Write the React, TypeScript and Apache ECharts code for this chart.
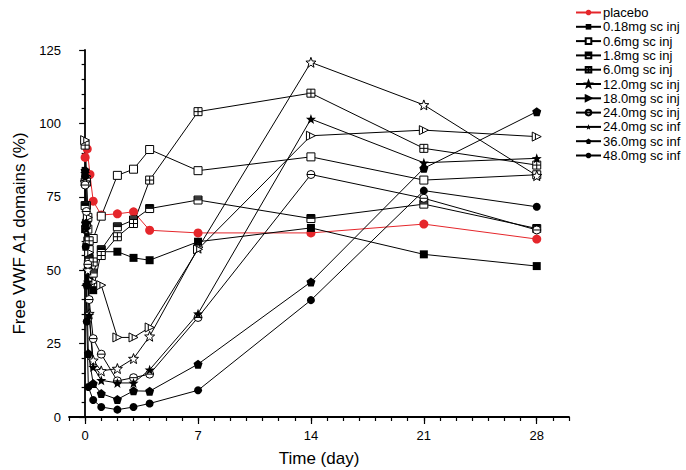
import React, { useEffect, useRef } from "react";
import * as echarts from "echarts";

// ---- data ----
const seriesNames = [
  "placebo",
  "0.18mg sc inj",
  "0.6mg sc inj",
  "1.8mg sc inj",
  "6.0mg sc inj",
  "12.0mg sc inj",
  "18.0mg sc inj",
  "24.0mg sc inj",
  "24.0mg sc inf",
  "36.0mg sc inf",
  "48.0mg sc inf",
];

const placeboDays = [0, 0.13, 0.3, 0.5, 1, 2, 3, 4, 7, 14, 21, 28];
const placeboValues = [88.4, 91.3, 82.6, 73.5, 68.8, 69.2, 69.9, 63.6, 62.7, 62.7, 65.7, 60.6];

const commonDays = [0, 0.08, 0.17, 0.25, 0.5, 1, 2, 3, 4, 7, 14, 21, 28];
const infDays = [0, 0.04, 0.1, 0.2, 0.5, 1, 2, 3, 4, 7, 14, 21, 28];

const dose018Values = [64, 58, 52, 47, 43.2, 56.3, 56.3, 54.2, 53.4, 59.7, 64.4, 55.4, 51.4];
const dose06Values = [80, 72, 64, 57, 60.8, 68.4, 82.3, 84.4, 91.1, 83.9, 88.6, 80.7, 82.5];
const dose18Values = [72, 66, 60, 54, 49, 57, 64.8, 67.1, 71.0, 73.9, 67.6, 72.5, 64.2];
const dose60Values = [92.6, 80, 68, 60, 52.8, 55, 61.4, 65.9, 80.7, 104, 110.3, 91.5, 85.8];
const dose120Values = [80, 66, 50, 35.2, 19.3, 15.7, 16.5, 19.9, 27.5, 57.5, 120.8, 106.3, 82.2];
const dose180Values = [94.3, 82, 68, 56, 46, 44.9, 27.1, 27.1, 30.5, 57.1, 95.8, 97.7, 95.5];
const dose240InjValues = [79, 70, 52, 40, 26.7, 21.4, 12.3, 13.4, 14.6, 33.9, 82.6, 74.5, 63.7];
const dose240InfValues = [83, 64, 46, 34.7, 17, 12.5, 11.6, 11.6, 16.1, 35.2, 101.5, 86.6, 88.1];
const dose360Values = [84, 66, 45, 21.6, 11.4, 8.0, 6.0, 8.9, 8.8, 18.0, 46.0, 84.7, 104];
const dose480Values = [82, 58, 32.5, 10.2, 5.8, 3.4, 2.5, 3.4, 4.6, 9.1, 39.8, 77.1, 71.6];

const xMajorTicks = [0, 7, 14, 21, 28];

// ---- marker shapes ----
const STAR =
  "path://M5,0L6.23,3.3L9.76,3.45L7,5.65L7.94,9.05L5,7.1L2.06,9.05L3,5.65L0.24,3.45L3.77,3.3Z";
const PENTAGON = "path://M5,0L9.76,3.45L7.94,9.05L2.06,9.05L0.24,3.45Z";
const SQUARE_CROSS = "path://M0,0L10,0L10,10L0,10Z M5,0L5,10 M0,5L10,5";
const SQUARE_HALF = "path://M0,0L10,0L10,10L0,10Z M0,1.2L10,1.2 M0,2.4L10,2.4 M0,3.6L10,3.6 M0,4.8L10,4.8";
const TRI_BAR = "path://M0,0L10,5L0,10Z M3.5,1.75L3.5,8.25";
const CIRCLE_BAR = "path://M0,5A5,5,0,1,1,10,5A5,5,0,1,1,0,5Z M0,5L10,5";

type Style = { symbol: string; size: number; fill: string; border?: boolean; color?: string };

const styles: Style[] = [
  { symbol: "circle", size: 9, fill: "#e5262b", color: "#e5262b" },
  { symbol: "rect", size: 8, fill: "#000" },
  { symbol: "rect", size: 8, fill: "#fff", border: true },
  { symbol: SQUARE_HALF, size: 8, fill: "#fff", border: true },
  { symbol: SQUARE_CROSS, size: 8, fill: "#fff", border: true },
  { symbol: STAR, size: 10, fill: "#fff", border: true },
  { symbol: TRI_BAR, size: 9, fill: "#fff", border: true },
  { symbol: CIRCLE_BAR, size: 8, fill: "#fff", border: true },
  { symbol: STAR, size: 10, fill: "#000" },
  { symbol: PENTAGON, size: 9, fill: "#000" },
  { symbol: "circle", size: 8, fill: "#000" },
];

const seriesDays = [
  placeboDays,
  commonDays,
  commonDays,
  commonDays,
  commonDays,
  commonDays,
  commonDays,
  commonDays,
  commonDays,
  infDays,
  infDays,
];
const seriesValues = [
  placeboValues,
  dose018Values,
  dose06Values,
  dose18Values,
  dose60Values,
  dose120Values,
  dose180Values,
  dose240InjValues,
  dose240InfValues,
  dose360Values,
  dose480Values,
];

const FONT = "'Liberation Sans', Arial, sans-serif";

export default function App() {
  const ref = useRef<HTMLDivElement>(null);

  useEffect(() => {
    if (!ref.current) return;
    const chart = echarts.init(ref.current, undefined, { renderer: "svg" });

    const series = seriesNames.map((name, i) => {
      const st = styles[i];
      const lineColor = st.color || "#000";
      return {
        name,
        type: "line",
        xAxisIndex: 0,
        yAxisIndex: 0,
        data: seriesDays[i].map((d, k) => [d, seriesValues[i][k]]),
        symbol: st.symbol,
        symbolSize: st.size,
        showAllSymbol: true,
        lineStyle: { color: lineColor, width: 1 },
        itemStyle: {
          color: st.fill,
          borderColor: st.border ? "#000" : st.fill,
          borderWidth: st.border ? 1 : 0,
        },
        emphasis: { disabled: true },
      };
    });

    chart.setOption({
      animation: false,
      backgroundColor: "#fff",
      textStyle: { fontFamily: FONT },
      grid: {
        left: 69,
        top: 50,
        width: 500,
        height: 367,
        containLabel: false,
        outerBoundsMode: "none",
      },
      legend: {
        orient: "vertical",
        left: 575,
        top: 6,
        padding: 0,
        itemWidth: 25,
        itemHeight: 7,
        itemGap: 1.3,
        textStyle: { fontSize: 13, color: "#000", fontFamily: FONT, padding: [0, 0, 0, -3] },
        data: seriesNames,
      },
      xAxis: [
        {
          type: "value",
          min: -1,
          max: 30,
          interval: 1,
          position: "bottom",
          axisLine: { show: true, lineStyle: { color: "#000", width: 1.8 } },
          axisTick: { show: true, length: 4, lineStyle: { color: "#000", width: 1.2 } },
          axisLabel: { show: false },
          splitLine: { show: false },
        },
        {
          type: "value",
          min: -1,
          max: 30,
          position: "bottom",
          axisLine: { show: false },
          axisTick: {
            show: true,
            length: 7,
            customValues: xMajorTicks,
            lineStyle: { color: "#000", width: 1.2 },
          },
          axisLabel: {
            show: true,
            customValues: xMajorTicks,
            fontSize: 13,
            color: "#000",
            margin: 12,
            fontFamily: FONT,
          },
          splitLine: { show: false },
          name: "Time (day)",
          nameLocation: "middle",
          nameGap: 33,
          nameTextStyle: { fontSize: 17, color: "#000", fontFamily: FONT },
        },
      ],
      yAxis: {
        type: "value",
        min: 0,
        max: 125,
        interval: 25,
        axisLine: { show: true, lineStyle: { color: "#000", width: 1.8 } },
        axisTick: { show: true, length: 6, lineStyle: { color: "#000", width: 1.2 } },
        minorTick: { show: true, splitNumber: 5, length: 3.5, lineStyle: { color: "#000", width: 1.2 } },
        axisLabel: { fontSize: 13, color: "#000", margin: 8, fontFamily: FONT },
        splitLine: { show: false },
        minorSplitLine: { show: false },
        name: "Free VWF A1 domains (%)",
        nameLocation: "middle",
        nameGap: 34,
        nameTextStyle: { fontSize: 17, color: "#000", fontFamily: FONT },
      },
      series,
    });

    return () => chart.dispose();
  }, []);

  return (
    <div
      ref={ref}
      style={{ position: "absolute", left: 0, top: 0, width: 686, height: 470 }}
    />
  );
}
